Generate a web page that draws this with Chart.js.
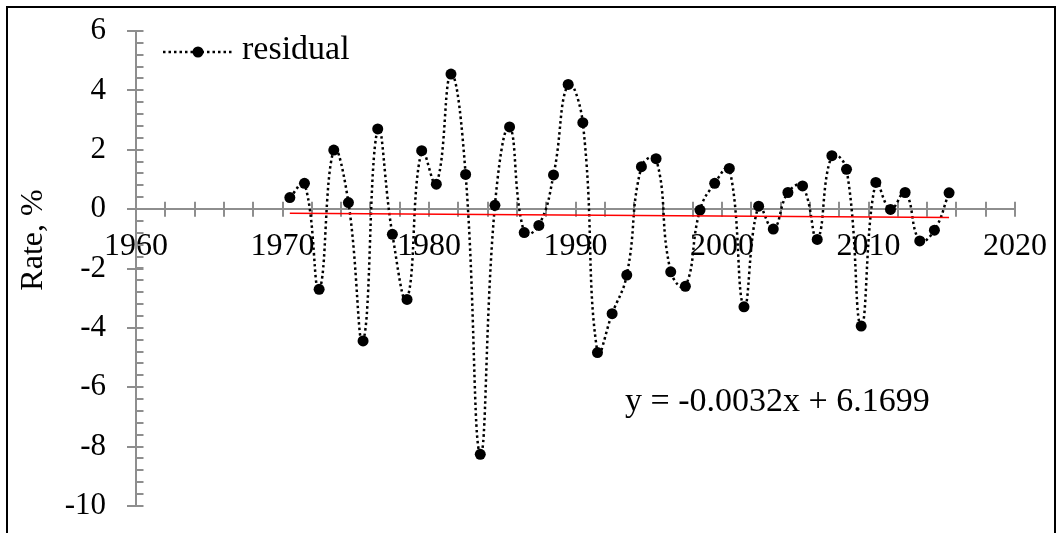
<!DOCTYPE html>
<html><head><meta charset="utf-8">
<script src="https://cdn.jsdelivr.net/npm/chart.js@4/dist/chart.umd.min.js"></script>
<style>html,body{margin:0;padding:0;background:#fff}#wrap{width:1062px;height:533px;position:relative}</style>
</head><body><div id="wrap"><canvas id="c" width="1062" height="533"></canvas></div>
<script>
// ---- data ----
const years = [1970.5,1971.5,1972.5,1973.5,1974.5,1975.5,1976.5,1977.5,1978.5,1979.5,
  1980.5,1981.5,1982.5,1983.5,1984.5,1985.5,1986.5,1987.5,1988.5,1989.5,
  1990.5,1991.5,1992.5,1993.5,1994.5,1995.5,1996.5,1997.5,1998.5,1999.5,
  2000.5,2001.5,2002.5,2003.5,2004.5,2005.5,2006.5,2007.5,2008.5,2009.5,
  2010.5,2011.5,2012.5,2013.5,2014.5,2015.5];
const residual = [0.39,0.87,-2.70,1.99,0.22,-4.44,2.70,-0.85,-3.04,1.97,
  0.84,4.55,1.17,-8.26,0.13,2.77,-0.79,-0.55,1.15,4.20,
  2.91,-4.83,-3.52,-2.22,1.43,1.70,-2.11,-2.60,-0.03,0.87,
  1.37,-3.29,0.10,-0.67,0.56,0.78,-1.02,1.80,1.34,-3.94,
  0.90,-0.01,0.56,-1.07,-0.71,0.55];
const trendYears = [1970.5, 2015.5];
const trendValues = [-0.14, -0.28];
const trendLabel = 'y = -0.0032x + 6.1699';
const seriesName = 'residual';
const yTitle = 'Rate, %';
const xTickValues = [1960,1970,1980,1990,2000,2010,2020];
const yTickValues = [-10,-8,-6,-4,-2,0,2,4,6];
const xMinorStep = 2;
const yMinorStep = 0.4;

const FONT = "'Liberation Serif', 'Times New Roman', serif";
const AXIS = '#8e8e8e';

const decor = {
  id: 'decor',
  beforeDraw(chart) {
    const ctx = chart.ctx;
    ctx.save();
    ctx.fillStyle = '#fff';
    ctx.fillRect(0, 0, chart.width, chart.height);
    ctx.strokeStyle = '#000';
    ctx.lineWidth = 2;
    ctx.strokeRect(7, 7, 1048, 560);
    ctx.restore();
  },
  beforeDatasetsDraw(chart) {
    const ctx = chart.ctx, xs = chart.scales.x, ys = chart.scales.y;
    const y0 = ys.getPixelForValue(0);
    const left = chart.chartArea.left;
    ctx.save();
    ctx.strokeStyle = AXIS;
    ctx.lineWidth = 2;
    ctx.beginPath();
    for (let v = xs.min; v <= xs.max + 1e-9; v += xMinorStep) {
      const px = Math.round(xs.getPixelForValue(v));
      ctx.moveTo(px, y0 - 7.5); ctx.lineTo(px, y0 + 7.5);
    }
    for (let v = ys.min; v <= ys.max + 1e-9; v += yMinorStep) {
      const py = Math.round(ys.getPixelForValue(v));
      ctx.moveTo(left, py); ctx.lineTo(left + 7.5, py);
    }
    yTickValues.forEach(v => {
      const py = Math.round(ys.getPixelForValue(v));
      ctx.moveTo(left - 9, py); ctx.lineTo(left + 7.5, py);
    });
    ctx.stroke();
    ctx.restore();
  },
  afterDraw(chart) {
    const ctx = chart.ctx;
    ctx.save();
    ctx.fillStyle = '#000';
    ctx.font = '32px ' + FONT;
    ctx.translate(34, 240);
    ctx.rotate(-Math.PI / 2);
    ctx.textAlign = 'center';
    ctx.textBaseline = 'middle';
    ctx.fillText(yTitle, 0, 0);
    ctx.restore();
    ctx.save();
    ctx.fillStyle = '#000';
    ctx.font = '34px ' + FONT;
    ctx.textAlign = 'left';
    ctx.textBaseline = 'alphabetic';
    ctx.fillText(trendLabel, 625, 411);
    ctx.strokeStyle = '#000';
    ctx.lineWidth = 2.5;
    ctx.setLineDash([2.5, 3]);
    ctx.beginPath();
    ctx.moveTo(163, 52); ctx.lineTo(233, 52);
    ctx.stroke();
    ctx.setLineDash([]);
    ctx.beginPath();
    ctx.arc(198, 52, 5.5, 0, Math.PI * 2);
    ctx.fillStyle = '#000';
    ctx.fill();
    ctx.font = '34px ' + FONT;
    ctx.fillText(seriesName, 242, 59);
    ctx.restore();
  }
};

new Chart(document.getElementById('c'), {
  type: 'line',
  data: {
    datasets: [
      {
        label: seriesName,
        data: years.map((x, i) => ({x, y: residual[i]})),
        borderColor: '#000',
        borderWidth: 2.5,
        borderDash: [2.5, 3],
        tension: 0.45,
        pointRadius: 5.5,
        pointBackgroundColor: '#000',
        pointBorderColor: '#000',
        pointBorderWidth: 0,
        fill: false,
        order: 2
      },
      {
        label: 'trend',
        data: trendYears.map((x, i) => ({x, y: trendValues[i]})),
        borderColor: '#ff0000',
        borderWidth: 1.6,
        pointRadius: 0,
        tension: 0,
        fill: false,
        order: 1
      }
    ]
  },
  options: {
    responsive: false,
    animation: false,
    devicePixelRatio: 1,
    layout: { padding: { left: 0, top: 31, right: 47, bottom: 27 } },
    plugins: { legend: { display: false }, tooltip: { enabled: false } },
    scales: {
      x: {
        type: 'linear',
        position: { y: 0 },
        min: 1960, max: 2020,
        afterBuildTicks: s => { s.ticks = xTickValues.map(v => ({value: v})); },
        afterFit: s => { s.height = 0; s.paddingLeft = 0; s.paddingRight = 0; s.paddingTop = 0; s.paddingBottom = 0; },
        grid: { display: false },
        border: { display: true, color: AXIS, width: 2 },
        ticks: { color: '#000', font: { family: FONT, size: 32 }, padding: 10, maxRotation: 0, autoSkip: false, callback: v => String(v) }
      },
      y: {
        type: 'linear',
        position: 'left',
        min: -10, max: 6,
        afterBuildTicks: s => { s.ticks = yTickValues.map(v => ({value: v})); },
        afterFit: s => { s.width = 136; s.paddingLeft = 0; s.paddingRight = 0; s.paddingTop = 0; s.paddingBottom = 0; },
        grid: { display: false },
        border: { display: true, color: AXIS, width: 2 },
        ticks: { color: '#000', font: { family: FONT, size: 31 }, padding: 22, autoSkip: false, callback: v => String(v) }
      }
    }
  },
  plugins: [decor]
});
</script>
</body></html>
